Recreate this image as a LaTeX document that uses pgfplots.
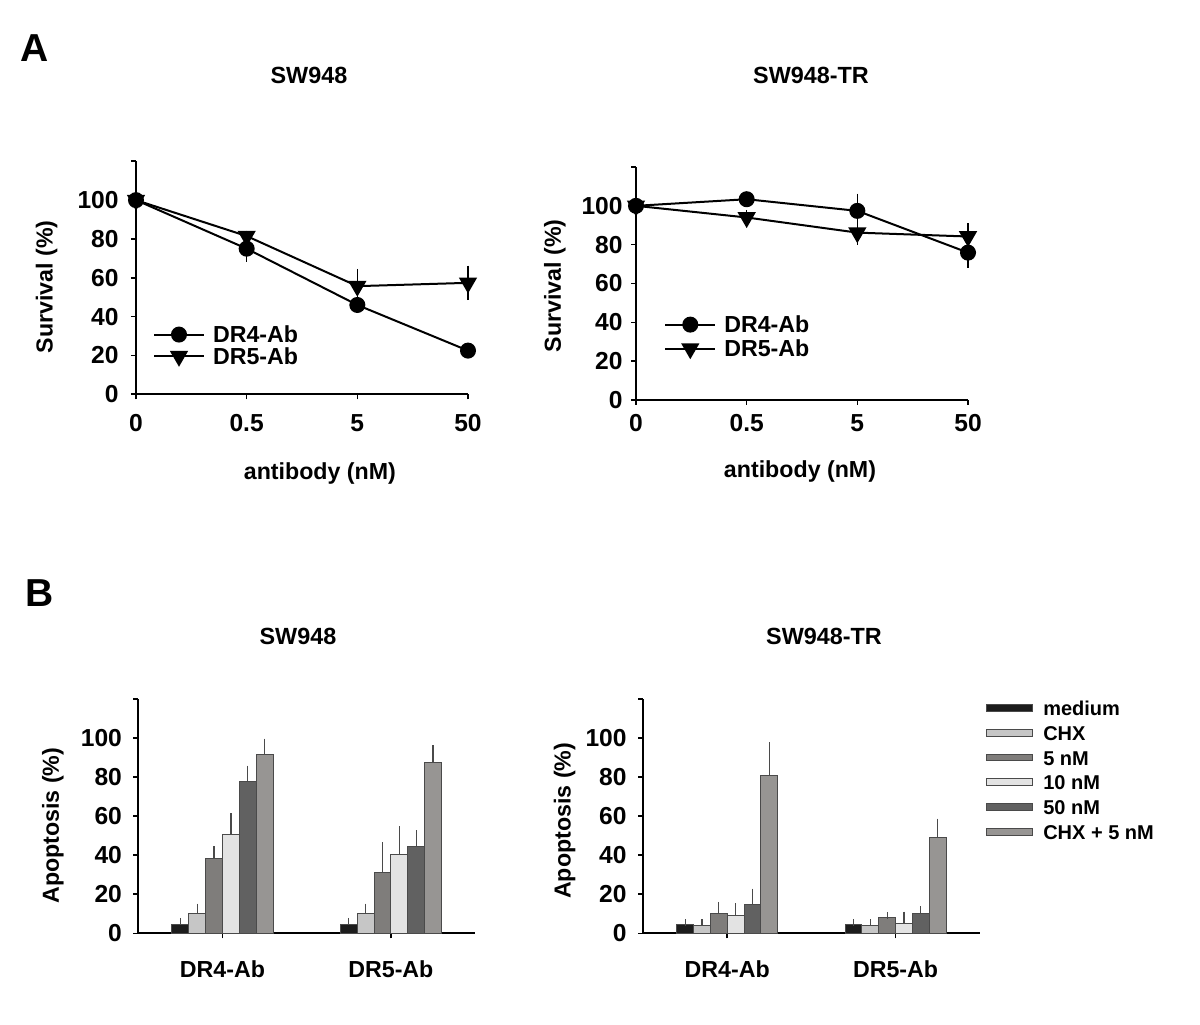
\documentclass[border=0pt]{standalone}
\usepackage{fontspec}
\setmainfont{Liberation Sans}
\usepackage{pgfplots}
\pgfplotsset{compat=1.18}
\usepackage{pgfplotstable}

\definecolor{cMed}{HTML}{1C1C1C}
\definecolor{cChx}{HTML}{C6C6C6}
\definecolor{cFive}{HTML}{7F7D7B}
\definecolor{cTen}{HTML}{E3E3E3}
\definecolor{cFifty}{HTML}{616161}
\definecolor{cCombo}{HTML}{979593}
\definecolor{cEdge}{HTML}{4A4A4A}

\newcommand\tickfont{\fontsize{12.3}{14}\selectfont\bfseries}
\newcommand\labfont{\fontsize{11.6}{13}\selectfont\bfseries}
\newcommand\titfont{\fontsize{11.7}{14}\selectfont\bfseries}

% Panel A, SW948
\pgfplotstableread{
x y e
0 100 0
1 75 5
2 46 1
3 22.5 1
}\ALfour
\pgfplotstableread{
x y e
0 100 0
1 81.5 1
2 55.7 7
3 57.4 7
}\ALfive
% Panel A, SW948-TR
\pgfplotstableread{
x y e
0 100 0
1 103.4 1
2 97.4 7
3 75.9 6
}\ARfour
\pgfplotstableread{
x y e
0 100 0
1 94 2
2 86.2 4.5
3 84.2 5
}\ARfive
% Panel B, SW948
\pgfplotstableread{
g med medE chx chxE five fiveE ten tenE fifty fiftyE combo comboE
1 4.3 2.0 10.2 3.4 38.3 4.7 50.8 9.0 77.9 6.3 91.7 6.4
2 4.3 2.0 10.2 3.4 31.2 13.9 40.2 13.0 44.3 6.8 87.6 7.1
}\BL
% Panel B, SW948-TR
\pgfplotstableread{
g med medE chx chxE five fiveE ten tenE fifty fiftyE combo comboE
1 4.6 1.0 3.9 1.7 10.3 4.1 9.1 4.7 15.0 6.2 81.0 15.2
2 4.6 1.0 3.9 1.7 7.9 1.3 5.1 4.4 10.0 2.3 49.1 8.0
}\BR

\pgfplotsset{
  common/.style={
    scale only axis, anchor=south west, clip=false,
    ymin=0, ymax=120,
    axis lines*=left, axis line style={line width=0.9pt, black, -},
    ytick={0,20,...,120}, yticklabels={0,20,40,60,80,100,{}},
    tick align=outside, major tick length=2.5pt,
    tick style={line width=0.8pt, black},
    /pgf/number format/assume math mode=true,
    tick label style={font=\tickfont, inner sep=0pt},
    yticklabel style={anchor=east},
    xticklabel style={anchor=center},
    label style={font=\labfont},
    ylabel style={anchor=center},
    xlabel style={anchor=center},
  },
  lineax/.style={common, width=166pt, height=116.5pt,
    xmin=0, xmax=3, xtick={0,1,2,3}, xticklabels={0,0.5,5,50},
    xlabel={antibody (nM)}, ylabel={Survival (\%)},
    legend style={draw=none, fill=none, inner sep=0pt, font=\labfont,
      nodes={inner sep=1pt, text height=8pt, text depth=0pt, anchor=west},
      column sep=3pt},
    legend cell align=left,
    legend image code/.code={\draw[mark repeat=2,mark phase=2,#1] plot coordinates {(0pt,0pt) (12.5pt,0pt) (25pt,0pt)};},
  },
  lstyle/.style={black, line width=1pt, mark options={solid, fill=black},
    error bars/y dir=both, error bars/y explicit,
    error bars/error bar style={line width=0.6pt, black},
    error bars/error mark options={line width=0.6pt, black, mark size=1.8pt}},
  barax/.style={common, width=168.4pt, height=117.15pt,
    xmin=0.5, xmax=2.5, xtick={1,2}, xticklabels={DR4-Ab,DR5-Ab},
    xticklabel style={yshift=-15.3pt, font=\labfont},
    ylabel={Apoptosis (\%)},
  },
  bstyle/.style={ybar, bar width=0.1, bar shift=0, draw=cEdge, line width=0.5pt,
    fill=#1,
    legend image code/.code={\draw[fill=#1, draw=cEdge, line width=0.5pt] (0pt,-1.7pt) rectangle (23pt,1.7pt);},
    error bars/y dir=plus, error bars/y explicit,
    error bars/error bar style={line width=0.6pt, cEdge},
    error bars/error mark options={line width=0.6pt, cEdge, mark size=1.6pt}},
}

\begin{document}
\begin{tikzpicture}
\path[use as bounding box] (0,0) rectangle (600pt,512pt);

\node[font=\fontsize{19.5}{22}\selectfont\bfseries] at (17.5pt,488pt) {A};
\node[font=\fontsize{19.5}{22}\selectfont\bfseries] at (20pt,215.5pt) {B};
\node[font=\titfont] at (154.5pt,474.5pt) {SW948};
\node[font=\titfont] at (405.5pt,474.5pt) {SW948-TR};
\node[font=\titfont] at (149pt,194pt) {SW948};
\node[font=\titfont] at (412pt,194pt) {SW948-TR};

% ---------- A left
\begin{axis}[lineax, at={(68pt,314.85pt)},
  yticklabel style={xshift=-6pt}, xticklabel style={yshift=-12pt},
  xlabel style={at={(axis description cs:0.554,-0.339)}},
  ylabel style={at={(axis description cs:-0.269,0.461)}},
  legend style={at={(0.05,0.21)}, anchor=west, row sep=0.8pt}]
\addplot[lstyle, mark=*, mark size=3.5pt] table[x=x, y=y, y error=e] {\ALfour};
\addlegendentry{DR4-Ab}
\addplot[lstyle, mark=triangle*, mark size=4.3pt, mark options={rotate=180}] table[x=x, y=y, y error=e] {\ALfive};
\addlegendentry{DR5-Ab}
\end{axis}

% ---------- A right
\begin{axis}[lineax, at={(318pt,312pt)},
  yticklabel style={xshift=-4pt}, xticklabel style={yshift=-9.2pt},
  xlabel style={at={(axis description cs:0.494,-0.308)}},
  ylabel style={at={(axis description cs:-0.244,0.49)}},
  legend style={at={(0.084,0.272)}, anchor=west, row sep=2pt}]
\addplot[lstyle, mark=*, mark size=3.5pt] table[x=x, y=y, y error=e] {\ARfour};
\addlegendentry{DR4-Ab}
\addplot[lstyle, mark=triangle*, mark size=4.3pt, mark options={rotate=180}] table[x=x, y=y, y error=e] {\ARfive};
\addlegendentry{DR5-Ab}
\end{axis}

% ---------- B left
\begin{axis}[barax, at={(69.15pt,45.35pt)},
  yticklabel style={xshift=-5.5pt},
  ylabel style={at={(axis description cs:-0.254,0.459)}}]
\addplot[bstyle=cMed] table[x expr=\thisrow{g}-0.25, y=med, y error=medE] {\BL};
\addplot[bstyle=cChx] table[x expr=\thisrow{g}-0.15, y=chx, y error=chxE] {\BL};
\addplot[bstyle=cFive] table[x expr=\thisrow{g}-0.05, y=five, y error=fiveE] {\BL};
\addplot[bstyle=cTen] table[x expr=\thisrow{g}+0.05, y=ten, y error=tenE] {\BL};
\addplot[bstyle=cFifty] table[x expr=\thisrow{g}+0.15, y=fifty, y error=fiftyE] {\BL};
\addplot[bstyle=cCombo] table[x expr=\thisrow{g}+0.25, y=combo, y error=comboE] {\BL};
\end{axis}

% ---------- B right
\begin{axis}[barax, at={(321.5pt,45.35pt)},
  yticklabel style={xshift=-5.5pt},
  ylabel style={at={(axis description cs:-0.233,0.48)}},
  legend style={draw=none, fill=none, inner sep=0pt,
    font=\fontsize{10}{12}\selectfont\bfseries,
    nodes={inner sep=1pt, text height=7.5pt, text depth=0pt, anchor=west},
    at={(1.018,0.697)}, anchor=west, row sep=2.9pt, column sep=4pt},
  legend cell align=left]
\addplot[bstyle=cMed] table[x expr=\thisrow{g}-0.25, y=med, y error=medE] {\BR};
\addlegendentry{medium}
\addplot[bstyle=cChx] table[x expr=\thisrow{g}-0.15, y=chx, y error=chxE] {\BR};
\addlegendentry{CHX}
\addplot[bstyle=cFive] table[x expr=\thisrow{g}-0.05, y=five, y error=fiveE] {\BR};
\addlegendentry{5 nM}
\addplot[bstyle=cTen] table[x expr=\thisrow{g}+0.05, y=ten, y error=tenE] {\BR};
\addlegendentry{10 nM}
\addplot[bstyle=cFifty] table[x expr=\thisrow{g}+0.15, y=fifty, y error=fiftyE] {\BR};
\addlegendentry{50 nM}
\addplot[bstyle=cCombo] table[x expr=\thisrow{g}+0.25, y=combo, y error=comboE] {\BR};
\addlegendentry{CHX + 5 nM}
\end{axis}
\end{tikzpicture}
\end{document}
